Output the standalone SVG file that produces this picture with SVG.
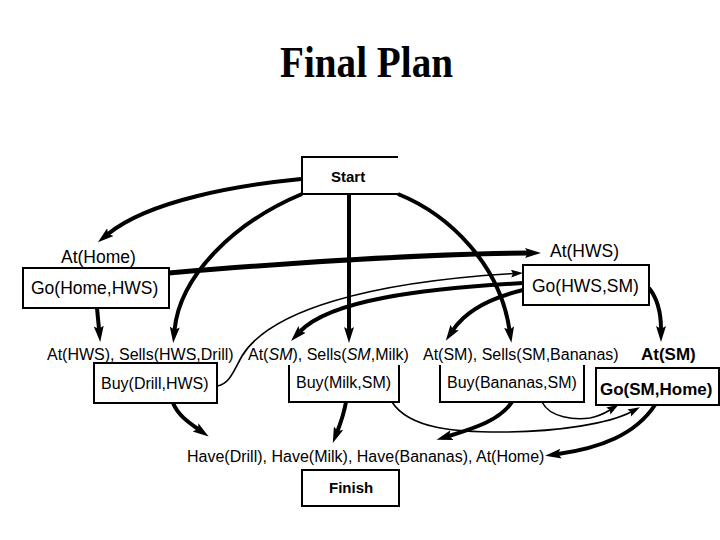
<svg xmlns="http://www.w3.org/2000/svg" width="720" height="540" viewBox="0 0 720 540">
<style>
.box{fill:#fff;stroke:#000;stroke-width:2}
.open{fill:none;stroke:#000;stroke-width:2}
.t{font-family:"Liberation Sans",Arial,sans-serif;fill:#000}
.s16{font-size:16px}
.s17{font-size:17.5px}
.b{font-weight:bold}
.thick{fill:none;stroke:#000;stroke-width:4}
.thin{fill:none;stroke:#000;stroke-width:1.6}
</style>
<defs>
<marker id="ah" markerUnits="userSpaceOnUse" markerWidth="18" markerHeight="12" refX="3" refY="5" orient="auto">
<path d="M0,0 L16,5 L0,10 L3,5 z" fill="#000"/>
</marker>
<marker id="ahs" markerUnits="userSpaceOnUse" markerWidth="14" markerHeight="10" refX="2" refY="4" orient="auto">
<path d="M0,0 L12,4 L0,8 L2,4 z" fill="#000"/>
</marker>
</defs>
<rect width="720" height="540" fill="#fff"/>
<text x="280" y="77" font-family="'Liberation Serif','Times New Roman',serif" font-weight="bold" font-size="44" textLength="173" lengthAdjust="spacingAndGlyphs">Final Plan</text>

<g id="connectors">
<path class="thick" d="M301,179 C240,185 150,200 108,234" marker-end="url(#ah)"/>
<path class="thick" d="M302,194 C235,222 180,275 174.5,330" marker-end="url(#ah)"/>
<path class="thick" d="M349,194 V330" marker-end="url(#ah)"/>
<path class="thick" d="M398,194 C450,215 500,265 509.5,330" marker-end="url(#ah)"/>
<path class="thick" style="stroke-width:5" d="M169,273 C300,262 420,254 528,253" marker-end="url(#ah)"/>
<path class="thick" d="M97,308 L99,329" marker-end="url(#ah)"/>
<path class="thin" d="M217,386 C230,384 234,370 242,356 C270,310 370,282 513,273.5" marker-end="url(#ahs)"/>
<path class="thick" d="M523,283 C420,289 330,300 300,331.5" marker-end="url(#ah)"/>
<path class="thick" d="M523,290 C490,298 465,312 453,330" marker-end="url(#ah)"/>
<path class="thick" d="M649,288 C657,298 661,312 661,329" marker-end="url(#ah)"/>
<path class="thick" d="M173,403 C178,415 188,422 198,429" marker-end="url(#ah)"/>
<path class="thick" d="M346,402 C344,413 341,422 337.5,431" marker-end="url(#ah)"/>
<path class="thick" d="M512,402 C500,420 475,428 449,436" marker-end="url(#ah)"/>
<path class="thin" d="M392,402 C410,430 460,432 500,432 C560,432 610,423 631,412" marker-end="url(#ahs)"/>
<path class="thin" d="M542,402 C550,418 575,420 590,418 C600,416 605,413 610,410" marker-end="url(#ahs)"/>
<path class="thick" d="M655,405 C635,435 600,448 558,454" marker-end="url(#ah)"/>
</g>

<g id="start">
<path class="open" d="M398,157 H302 V194 H398"/>
<text class="t b" x="331" y="182" font-size="15">Start</text>
</g>
<g id="go-home-hws">
<text class="t s17" x="61" y="263">At(Home)</text>
<rect class="box" x="23" y="268" width="146" height="40"/>
<text class="t s17" x="31" y="294">Go(Home,HWS)</text>
</g>
<g id="go-hws-sm">
<text class="t s17" x="550" y="257">At(HWS)</text>
<rect class="box" x="523" y="265" width="126" height="40"/>
<text class="t s17" x="532" y="292">Go(HWS,SM)</text>
</g>
<g id="buy-drill">
<text class="t s16" x="47" y="360">At(HWS), Sells(HWS,Drill)</text>
<rect class="box" x="94" y="363" width="123" height="40"/>
<text class="t s16" x="101" y="389">Buy(Drill,HWS)</text>
</g>
<g id="buy-milk">
<text class="t s16" x="248" y="360">At(<tspan font-style="italic">SM</tspan>), Sells(<tspan font-style="italic">SM</tspan>,Milk)</text>
<path class="open" d="M289,365 V402 H399 V365"/>
<text class="t s16" x="296" y="388">Buy(Milk,SM)</text>
</g>
<g id="buy-bananas">
<text class="t s16" x="423" y="360">At(SM), Sells(SM,Bananas)</text>
<path class="open" d="M440,365 V402 H584 V365"/>
<text class="t s16" x="447" y="388">Buy(Bananas,SM)</text>
</g>
<g id="go-sm-home">
<text class="t b" x="641" y="360" font-size="17">At(SM)</text>
<rect class="box" x="596" y="368" width="123" height="37"/>
<text class="t b" x="600" y="395" font-size="17">Go(SM,Home)</text>
</g>
<g id="finish">
<text class="t s16" x="187" y="462">Have(Drill), Have(Milk), Have(Bananas), At(Home)</text>
<rect class="box" x="302" y="470" width="97" height="36"/>
<text class="t b" x="329" y="493" font-size="15">Finish</text>
</g>
</svg>
